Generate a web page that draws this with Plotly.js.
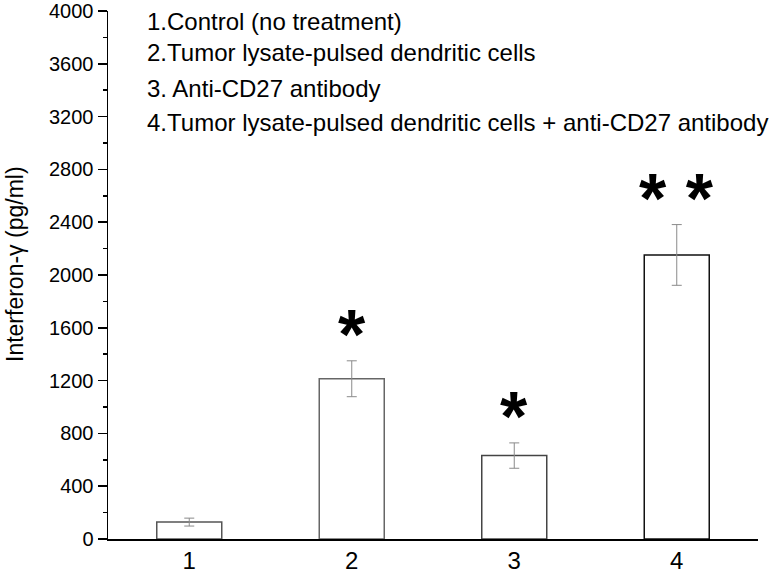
<!DOCTYPE html>
<html>
<head>
<meta charset="utf-8">
<script src="https://cdn.plot.ly/plotly-3.0.1.min.js"></script>
<style>html,body{margin:0;padding:0;background:#fff;}#chart{width:777px;height:576px;}</style>
</head>
<body>
<div id="chart"></div>
<script>
const groups = [1, 2, 3, 4];
const tickLabels = ['1', '2', '3', '4'];
const ifnGamma = [128, 1214, 632, 2152];
const ifnError = [30, 136, 96, 230];
const significance = ['', '*', '*', '* *'];
const legendLines = [
  '1.Control (no treatment)',
  '2.Tumor lysate-pulsed dendritic cells',
  '3. Anti-CD27 antibody',
  '4.Tumor lysate-pulsed dendritic cells + anti-CD27 antibody'
];
const yTicks = [0, 400, 800, 1200, 1600, 2000, 2400, 2800, 3200, 3600, 4000];

const FONT = 'Liberation Sans, Arial, sans-serif';

const trace = {
  type: 'bar',
  x: groups,
  y: ifnGamma,
  width: 0.4,
  marker: {
    color: 'rgba(255,255,255,1)',
    line: {color: ['#555', '#666', '#444', '#111'], width: 1.5}
  },
  error_y: {type: 'data', array: ifnError, visible: true, color: '#8a8a8a', thickness: 1, width: 5},
  hoverinfo: 'skip'
};

const annotations = [];
groups.forEach((g, i) => {
  if (significance[i]) {
    annotations.push({
      x: g, y: ifnGamma[i] + ifnError[i], xref: 'x', yref: 'y',
      text: '<b>' + significance[i] + '</b>', showarrow: false,
      yanchor: 'bottom', yshift: -15,
      font: {family: FONT, size: 70, color: '#000'}
    });
  }
});
const legendY = [21, 52, 88, 122];
legendLines.forEach((t, i) => {
  annotations.push({
    xref: 'paper', yref: 'paper', x: 0, y: 1, xshift: 37, yshift: -legendY[i] + 11,
    xanchor: 'left', yanchor: 'middle', text: t, showarrow: false,
    font: {family: FONT, size: 24, color: '#000'}
  });
});
annotations.push({
  xref: 'paper', yref: 'paper', x: 0, y: 0.5, xshift: -93, yshift: 11,
  xanchor: 'center', yanchor: 'middle', textangle: -90,
  text: 'Interferon-γ (pg/ml)', showarrow: false,
  font: {family: FONT, size: 23, color: '#000'}
});

const layout = {
  width: 777, height: 576,
  margin: {l: 108, r: 19, t: 11, b: 37, pad: 0},
  paper_bgcolor: '#fff', plot_bgcolor: '#fff',
  showlegend: false,
  font: {family: FONT, color: '#000'},
  xaxis: {
    range: [0.5, 4.5], tickvals: groups, ticktext: tickLabels,
    showgrid: false, zeroline: false, showline: true, linecolor: '#000', linewidth: 1.5,
    ticks: '', tickfont: {family: FONT, size: 24, color: '#000'}
  },
  yaxis: {
    range: [0, 4000], tickvals: yTicks, ticktext: yTicks.map(String),
    showgrid: false, zeroline: false, showline: true, linecolor: '#000', linewidth: 1.5,
    ticks: 'outside', ticklen: 9, tickwidth: 1.5, tickcolor: '#000',
    minor: {dtick: 200, ticks: 'outside', ticklen: 4, tickwidth: 1.5, tickcolor: '#000', showgrid: false},
    tickfont: {family: FONT, size: 20, color: '#000'}
  },
  annotations: annotations
};

Plotly.newPlot('chart', [trace], layout, {displayModeBar: false, staticPlot: true});
</script>
</body>
</html>
